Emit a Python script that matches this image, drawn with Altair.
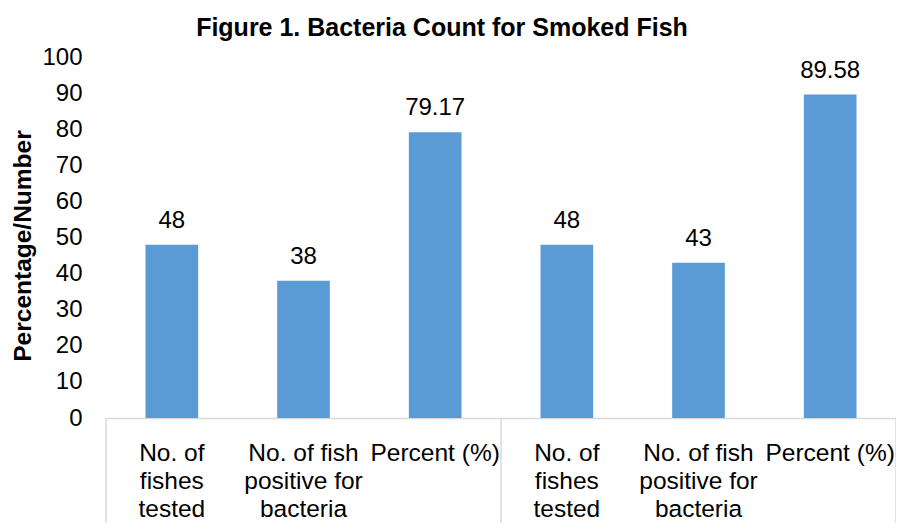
import json
import altair as alt
import pandas as pd

# ---- data ----
categories = ["No. of fishes tested", "No. of fish positive for bacteria", "Percent (%)",
              "No. of fishes tested", "No. of fish positive for bacteria", "Percent (%)"]
label_lines = [["No. of", "fishes", "tested"],
               ["No. of fish", "positive for", "bacteria"],
               ["Percent (%)"],
               ["No. of", "fishes", "tested"],
               ["No. of fish", "positive for", "bacteria"],
               ["Percent (%)"]]
values = [48, 38, 79.17, 48, 43, 89.58]
y_ticks = [0, 10, 20, 30, 40, 50, 60, 70, 80, 90, 100]
divider_positions = [0, 3, 6]

df = pd.DataFrame({"idx": list(range(len(values))), "category": categories, "value": values})
div_df = pd.DataFrame({"pos": divider_positions})

FONT = "Liberation Sans"
BAR = "#5B9BD5"
GRAY = "#d9d9d9"
W, H = 790, 361

label_expr = json.dumps(label_lines) + "[datum.value]"

base = alt.Chart(df).encode(
    x=alt.X("idx:O", scale=alt.Scale(paddingInner=0.6, paddingOuter=0.3),
            axis=alt.Axis(title=None, labelExpr=label_expr, labelAngle=0,
                          labelFontSize=24.5, labelFont=FONT, labelColor="black",
                          ticks=False, domainColor=GRAY, domainWidth=1.5,
                          labelPadding=23, labelLineHeight=28, labelBaseline="top")),
    y=alt.Y("value:Q", scale=alt.Scale(domain=[0, 100]),
            axis=alt.Axis(values=y_ticks, title="Percentage/Number", grid=False,
                          domain=False, ticks=False, labelPadding=24,
                          labelFontSize=24, labelFont=FONT, labelColor="black",
                          titleFontSize=24.5, titleFont=FONT, titleFontWeight="bold",
                          titleColor="black", titlePadding=6, titleY=H / 2 + 8)),
)

bars = base.mark_bar(color=BAR)
text = base.mark_text(dy=-17, baseline="alphabetic", fontSize=24, font=FONT,
                      color="black").encode(text=alt.Text("value:Q", format="~f"))

rules = alt.Chart(div_df).mark_rule(color=GRAY, strokeWidth=1.5).encode(
    x=alt.X("pos:Q", scale=alt.Scale(domain=[0, 6]), axis=None),
    y=alt.value(H),
    y2=alt.value(H + 105),
)

chart = alt.layer(alt.layer(bars, text), rules).resolve_scale(x="independent").properties(
    width=W, height=H,
    autosize=alt.AutoSizeParams(type="none"),
    padding={"left": 98, "top": 49, "right": 0, "bottom": 105},
    title=alt.TitleParams("Figure 1. Bacteria Count for Smoked Fish", fontSize=25,
                          fontWeight="bold", font=FONT, color="black", anchor="middle",
                          frame="group", dx=-59, offset=4),
).configure_view(stroke=None)

chart.save("out.html", embed_options={"renderer": "svg", "actions": False})
